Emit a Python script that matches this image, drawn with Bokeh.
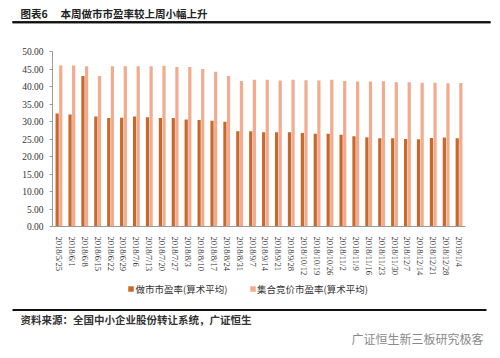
from bokeh.plotting import figure
from bokeh.models import ColumnDataSource, Range1d, FactorRange, FixedTicker, PrintfTickFormatter, BoxAnnotation
from bokeh.transform import dodge
from bokeh.layouts import column
from bokeh.core.properties import value
from bokeh.embed import file_html
from bokeh.resources import INLINE

# ---- data ----
dates = ["2018/5/25", "2018/6/1", "2018/6/8", "2018/6/15", "2018/6/22", "2018/6/29",
         "2018/7/6", "2018/7/13", "2018/7/20", "2018/7/27", "2018/8/3", "2018/8/10",
         "2018/8/17", "2018/8/24", "2018/8/31", "2018/9/7", "2018/9/14", "2018/9/21",
         "2018/9/28", "2018/10/12", "2018/10/19", "2018/10/26", "2018/11/2", "2018/11/9",
         "2018/11/16", "2018/11/23", "2018/11/30", "2018/12/7", "2018/12/14", "2018/12/21",
         "2018/12/28", "2019/1/4"]
market_maker_pe = [32.3, 32.0, 43.0, 31.4, 31.0, 31.1, 31.4, 31.2, 31.0, 31.0, 30.6, 30.4,
                   30.2, 29.9, 27.2, 27.2, 26.9, 26.9, 26.9, 26.7, 26.5, 26.5, 26.2, 25.8,
                   25.5, 25.2, 25.2, 25.0, 24.9, 25.3, 25.4, 25.2]
auction_pe = [46.0, 46.0, 45.8, 43.0, 45.8, 45.8, 45.8, 45.8, 45.9, 45.6, 45.6, 45.0,
              44.2, 43.0, 41.6, 41.9, 41.9, 41.7, 41.9, 41.8, 41.7, 41.9, 41.6, 41.4,
              41.4, 41.5, 41.2, 41.2, 41.1, 41.1, 40.9, 41.0]
y_ticks = [0, 5, 10, 15, 20, 25, 30, 35, 40, 45, 50]
series_names = ["做市市盈率(算术平均)", "集合竞价市盈率(算术平均)"]
title_no = "图表6"
title_text = "本周做市市盈率较上周小幅上升"
source_text = "资料来源：全国中小企业股份转让系统，广证恒生"
watermark_text = "广证恒生新三板研究极客"

DARK = "#C8692B"
LIGHT = "#F2AB8F"
CJK = "Noto Sans CJK SC"
SERIF = "Liberation Serif"
W = 500


def blank(height):
    f = figure(width=W, height=height, output_backend="svg", toolbar_location=None,
               title=None, x_range=Range1d(0, W), y_range=Range1d(height, 0),
               min_border=0, min_border_left=0, min_border_right=0,
               min_border_top=0, min_border_bottom=0, frame_align=False)
    f.axis.visible = False
    f.grid.visible = False
    f.outline_line_color = None
    f.border_fill_color = None
    f.background_fill_color = None
    return f


# ---- header ----
hdr = blank(40)
hdr.text(x=[20], y=[13.3], text=[title_no], text_font=value(CJK), text_font_size="10.5px",
         text_font_style="bold", text_baseline="middle", text_color="#222222")
hdr.text(x=[60], y=[13.3], text=[title_text], text_font=value(CJK), text_font_size="10.5px",
         text_font_style="bold", text_baseline="middle", text_color="#222222")
hdr.quad(left=[12], right=[490], top=[20.8], bottom=[22.8], fill_color="#111111", line_color=None)
hdr.add_layout(BoxAnnotation(left=12, right=490, top=20.8, bottom=22.8,
                             fill_color="#111111", fill_alpha=1, line_color=None))

# ---- chart ----
src = ColumnDataSource(dict(date=dates, mm=market_maker_pe, jh=auction_pe))
p = figure(width=W, height=238, output_backend="svg", toolbar_location=None,
           x_range=FactorRange(*dates, range_padding=0), y_range=Range1d(0, 50),
           min_border_left=52, min_border_right=35, min_border_top=11, min_border_bottom=45,
           frame_align=False)
p.outline_line_color = None
p.grid.visible = False
p.border_fill_color = None
p.background_fill_color = None

p.vbar(x=dodge("date", -0.14, range=p.x_range), top="mm", width=0.25, source=src,
       fill_color=DARK, line_color=None)
p.vbar(x=dodge("date", 0.14, range=p.x_range), top="jh", width=0.25, source=src,
       fill_color=LIGHT, line_color=None)

p.yaxis.ticker = FixedTicker(ticks=y_ticks)
p.yaxis.formatter = PrintfTickFormatter(format="%.2f")
p.yaxis.major_label_text_font = SERIF
p.yaxis.major_label_text_font_size = "9.5px"
p.yaxis.major_label_text_color = "#333333"
p.yaxis.major_tick_out = 3
p.yaxis.major_tick_in = 0
p.yaxis.minor_tick_line_color = None
p.yaxis.major_label_standoff = 6
p.yaxis.axis_line_color = "#9A9A9A"
p.yaxis.major_tick_line_color = "#9A9A9A"

p.xaxis.major_label_orientation = "vertical"
p.xaxis.major_label_text_font = SERIF
p.xaxis.major_label_text_font_size = "8.5px"
p.xaxis.major_label_text_color = "#333333"
p.xaxis.major_label_standoff = 4
p.xaxis.major_tick_line_color = None
p.xaxis.axis_line_color = "#9A9A9A"

# ---- footer (legend, source, watermark) ----
ftr = blank(80)
ftr.scatter(x=[130.5, 252.5], y=[10.5, 10.5], marker="square", size=5.5,
            fill_color=[DARK, LIGHT], line_color=None)
ftr.text(x=[135, 256.5], y=[10.5, 10.5], text=series_names, text_font=value(CJK),
         text_font_size="9.5px", text_baseline="middle", text_color="#333333")
ftr.quad(left=[12], right=[486], top=[30.5], bottom=[32.5], fill_color="#111111", line_color=None)
ftr.text(x=[20], y=[40.5], text=[source_text], text_font=value(CJK), text_font_size="10.5px",
         text_font_style="bold", text_baseline="middle", text_color="#333333")
ftr.text(x=[483], y=[59.5], text=[watermark_text], text_font=value(CJK), text_font_size="12px",
         text_align="right", text_baseline="middle", text_color="#8A8A8A")

layout = column(hdr, p, ftr, spacing=0)
open("out.html", "w").write(file_html(layout, INLINE))
